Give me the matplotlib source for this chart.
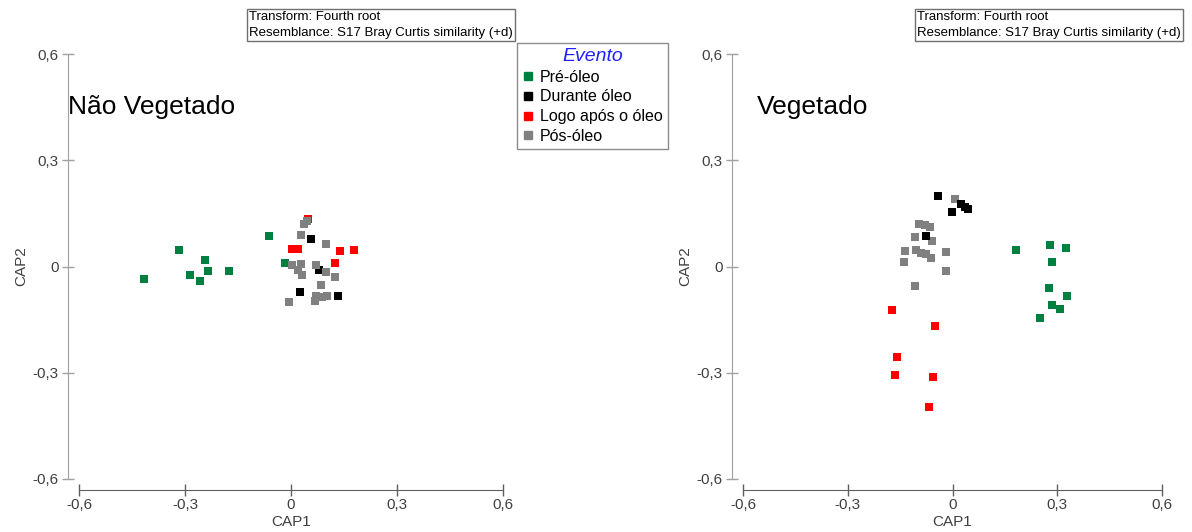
import matplotlib
matplotlib.use("Agg")
import matplotlib.pyplot as plt
from matplotlib.lines import Line2D
from matplotlib.ticker import FuncFormatter

plt.rcParams['font.family'] = ['Liberation Sans', 'DejaVu Sans']

# CAP scores per event, "Não Vegetado" site
nv_pre_x = [-0.416, -0.316, -0.243, -0.235, -0.286, -0.258, -0.175, -0.061, -0.016]
nv_pre_y = [-0.035, 0.046, 0.018, -0.013, -0.025, -0.040, -0.014, 0.085, 0.009]
nv_dur_x = [0.057, 0.079, 0.025, 0.133]
nv_dur_y = [0.079, -0.009, -0.071, -0.083]
nv_logo_x = [0.047, 0.002, 0.021, 0.139, 0.177, 0.125]
nv_logo_y = [0.133, 0.050, 0.050, 0.043, 0.047, 0.009]
nv_pos_x = [0.037, 0.046, 0.027, 0.098, 0.002, 0.028, 0.021, 0.032, 0.072, 0.099,
            0.125, 0.084, 0.071, 0.103, 0.068, -0.007, 0.087]
nv_pos_y = [0.121, 0.129, 0.090, 0.064, 0.005, 0.007, -0.011, -0.025, 0.003, -0.015,
            -0.030, -0.052, -0.082, -0.084, -0.098, -0.099, -0.086]

# CAP scores per event, "Vegetado" site
v_pre_x = [0.181, 0.279, 0.324, 0.285, 0.276, 0.327, 0.284, 0.309, 0.251]
v_pre_y = [0.048, 0.061, 0.052, 0.012, -0.061, -0.082, -0.110, -0.121, -0.144]
v_dur_x = [-0.042, 0.025, 0.044, 0.037, -0.001, -0.076]
v_dur_y = [0.200, 0.177, 0.163, 0.167, 0.155, 0.085]
v_logo_x = [-0.173, -0.051, -0.160, -0.165, -0.056, -0.067]
v_logo_y = [-0.123, -0.169, -0.255, -0.305, -0.312, -0.397]
v_pos_x = [0.006, -0.097, -0.080, -0.064, -0.108, -0.058, -0.136, -0.104, -0.090,
           -0.075, -0.061, -0.019, -0.138, -0.019, -0.108]
v_pos_y = [0.191, 0.121, 0.117, 0.111, 0.084, 0.071, 0.043, 0.048, 0.037,
           0.034, 0.023, 0.042, 0.014, -0.014, -0.056]

eventos = ["Pré-óleo", "Durante óleo", "Logo após o óleo", "Pós-óleo"]
cores = ["#008040", "#000000", "#ff0000", "#808080"]
ticks = [-0.6, -0.3, 0, 0.3, 0.6]

fig = plt.figure(figsize=(11.92, 5.32), dpi=100)
W, H = 1192, 532


def fmt(v, pos):
    if abs(v) < 1e-9:
        return "0"
    return f"{v:.1f}".replace(".", ",")


def make_axes(left_px, right_px, title, title_x, pts, order):
    ax = fig.add_axes([left_px / W, (H - 479) / H, (right_px - left_px) / W, 425 / H])
    for i in order:
        xs, ys = pts[i]
        ax.scatter(xs, ys, marker="s", s=34, color=cores[i], linewidths=0, zorder=3)
    ax.set_xlim(-0.6, 0.6)
    ax.set_ylim(-0.6, 0.6)
    ax.set_xticks(ticks)
    ax.set_yticks(ticks)
    ax.xaxis.set_major_formatter(FuncFormatter(fmt))
    ax.yaxis.set_major_formatter(FuncFormatter(fmt))
    for s in ["top", "right"]:
        ax.spines[s].set_visible(False)
    ax.spines["left"].set_position(("outward", 8))
    ax.spines["bottom"].set_position(("outward", 8))
    ax.spines["left"].set_color("#a0a0a0")
    ax.spines["bottom"].set_color("#606060")
    ax.tick_params(axis="x", direction="inout", length=9, width=1, color="#606060",
                   labelsize=11, labelcolor="#404040", pad=1)
    ax.tick_params(axis="y", direction="inout", length=9, width=1, color="#a0a0a0",
                   labelsize=11, labelcolor="#404040", pad=2)
    ax.set_xlabel("CAP1", fontsize=11, color="#404040", labelpad=2)
    ax.set_ylabel("CAP2", fontsize=11, color="#404040", labelpad=3)
    fig.text(title_x / W, 1 - 107 / H, title, fontsize=19, ha="left", va="center")
    return ax


ax1 = make_axes(79, 503, "Não Vegetado", 68,
                [(nv_pre_x, nv_pre_y), (nv_dur_x, nv_dur_y),
                 (nv_logo_x, nv_logo_y), (nv_pos_x, nv_pos_y)], [0, 1, 2, 3])
ax2 = make_axes(743, 1162, "Vegetado", 757,
                [(v_pre_x, v_pre_y), (v_dur_x, v_dur_y),
                 (v_logo_x, v_logo_y), (v_pos_x, v_pos_y)], [0, 3, 2, 1])

info = "Transform: Fourth root\nResemblance: S17 Bray Curtis similarity (+d)"
for x0 in [249, 917]:
    fig.text(x0 / W, 1 - 25 / H, info, fontsize=9.5, ha="left", va="center",
             linespacing=1.35,
             bbox=dict(boxstyle="square,pad=0.15", fc="white", ec="#707070", lw=1))

handles = [Line2D([], [], marker="s", ls="none", color=c, markersize=5.5) for c in cores]
leg = fig.legend(handles, eventos, loc="upper left",
                 bbox_to_anchor=(517 / W, 1 - 43 / H), fontsize=11.5,
                 title="Evento", title_fontproperties=dict(size=14, style="italic"),
                 frameon=True, fancybox=False, edgecolor="#707070",
                 borderpad=0.3, labelspacing=0.3, handletextpad=0.35,
                 handlelength=0.8, borderaxespad=0)
leg.get_title().set_color("#2020ff")
leg.get_frame().set_linewidth(1)

fig.savefig("out.png", dpi=100)
